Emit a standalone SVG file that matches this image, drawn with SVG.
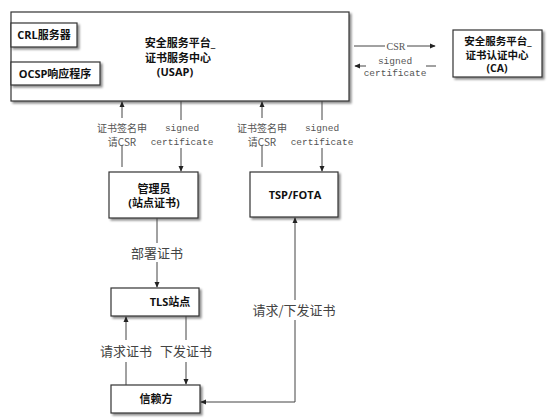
<svg xmlns="http://www.w3.org/2000/svg" width="554" height="419" viewBox="0 0 554 419">
<defs>
<marker id="ah" viewBox="0 0 8 8" refX="7" refY="4" markerWidth="6" markerHeight="6" orient="auto-start-reverse" markerUnits="userSpaceOnUse">
<path d="M0,0.5 L8,4 L0,7.5 Z" fill="#222"/>
</marker>
<filter id="sh" x="-10%" y="-10%" width="130%" height="140%">
<feGaussianBlur in="SourceAlpha" stdDeviation="1"/>
<feOffset dx="2" dy="2" result="o"/>
<feComponentTransfer><feFuncA type="linear" slope="0.45"/></feComponentTransfer>
<feMerge><feMergeNode/><feMergeNode in="SourceGraphic"/></feMerge>
</filter>
</defs>
<style>
.box{fill:#fff;stroke:#333;stroke-width:1.2;filter:url(#sh)}
.nt{font-family:"Open Sans","Noto Sans CJK SC",sans-serif;font-weight:bold;font-size:11px;fill:#111;text-anchor:middle}
.ln{stroke:#444;stroke-width:1;fill:none}
.ar{stroke:#444;stroke-width:1;fill:none;marker-end:url(#ah)}
.sm{font-family:"Liberation Mono","Noto Sans CJK SC",monospace;font-size:9.5px;fill:#555;text-anchor:middle}
.sf{font-family:"Liberation Serif",serif;font-size:10px;fill:#555;text-anchor:middle}
.cj{font-family:"Noto Sans CJK SC",sans-serif;font-size:10px;fill:#555;text-anchor:middle}
.lg{font-family:"Noto Sans CJK SC",sans-serif;font-size:13px;fill:#444;text-anchor:middle}
</style>
<rect width="554" height="419" fill="#fff"/>
<g id="usap">
<rect class="box" x="11" y="12" width="338" height="89"/>
<text class="nt" x="180" y="47">安全服务平台_</text>
<text class="nt" x="178" y="62">证书服务中心</text>
<text class="nt" x="175" y="76">(USAP)</text>
</g>
<g id="crl">
<rect class="box" x="11" y="23" width="66" height="24"/>
<text class="nt" x="44" y="39">CRL服务器</text>
</g>
<g id="ocsp">
<rect class="box" x="11" y="62" width="89" height="23"/>
<text class="nt" x="55" y="78">OCSP响应程序</text>
</g>
<g id="ca">
<rect class="box" x="453" y="30" width="89" height="47"/>
<text class="nt" x="498" y="45" style="font-size:10.5px">安全服务平台_</text>
<text class="nt" x="497" y="58.5" style="font-size:10.5px">证书认证中心</text>
<text class="nt" x="497" y="72" style="font-size:10.5px">(CA)</text>
</g>
<g id="admin">
<rect class="box" x="109" y="172" width="89" height="46"/>
<text class="nt" x="154" y="193">管理员</text>
<text class="nt" x="154" y="207">(站点证书)</text>
</g>
<g id="tsp">
<rect class="box" x="250" y="172" width="88" height="45"/>
<text class="nt" x="295" y="199">TSP/FOTA</text>
</g>
<g id="tls">
<rect class="box" x="111" y="288" width="88" height="28"/>
<text class="nt" x="170" y="306">TLS站点</text>
</g>
<g id="rp">
<rect class="box" x="111" y="385" width="89" height="28"/>
<text class="nt" x="156" y="403">信赖方</text>
</g>
<g id="connectors">
<line class="ln" x1="354" y1="46" x2="385" y2="46"/>
<line class="ar" x1="407" y1="46" x2="435" y2="46"/>
<text class="sf" x="396" y="49.5">CSR</text>
<line class="ar" x1="366" y1="66" x2="355" y2="66"/>
<line class="ln" x1="426" y1="66" x2="436" y2="66"/>
<text class="sm" x="395" y="64">signed</text>
<text class="sm" x="395" y="76">certificate</text>

<line class="ln" x1="122" y1="167" x2="122" y2="146"/>
<line class="ar" x1="122" y1="118" x2="122" y2="102"/>
<text class="cj" x="122" y="132">证书签名申</text>
<text class="cj" x="122" y="146">请CSR</text>

<line class="ln" x1="181" y1="101" x2="181" y2="120"/>
<line class="ar" x1="181" y1="148" x2="181" y2="171"/>
<text class="sm" x="182" y="131">signed</text>
<text class="sm" x="182" y="145">certificate</text>

<line class="ln" x1="262" y1="167" x2="262" y2="146"/>
<line class="ar" x1="262" y1="118" x2="262" y2="102"/>
<text class="cj" x="262" y="132">证书签名申</text>
<text class="cj" x="262" y="146">请CSR</text>

<line class="ln" x1="322" y1="101" x2="322" y2="120"/>
<line class="ar" x1="322" y1="148" x2="322" y2="171"/>
<text class="sm" x="322" y="131">signed</text>
<text class="sm" x="322" y="145">certificate</text>

<line class="ln" x1="157" y1="218" x2="157" y2="243"/>
<line class="ar" x1="157" y1="262" x2="157" y2="287"/>
<text class="lg" x="157" y="258">部署证书</text>

<line class="ln" x1="126" y1="385" x2="126" y2="362"/>
<line class="ar" x1="126" y1="340" x2="126" y2="317"/>
<text class="lg" x="126" y="356">请求证书</text>

<line class="ln" x1="186" y1="316" x2="186" y2="340"/>
<line class="ar" x1="186" y1="362" x2="186" y2="384"/>
<text class="lg" x="186" y="356">下发证书</text>

<polyline class="ln" points="295,300 295,218" marker-end="url(#ah)"/>
<polyline class="ln" points="295,320 295,402 201,402" marker-end="url(#ah)"/>
<text class="lg" x="294" y="315">请求/下发证书</text>
</g>
</svg>
